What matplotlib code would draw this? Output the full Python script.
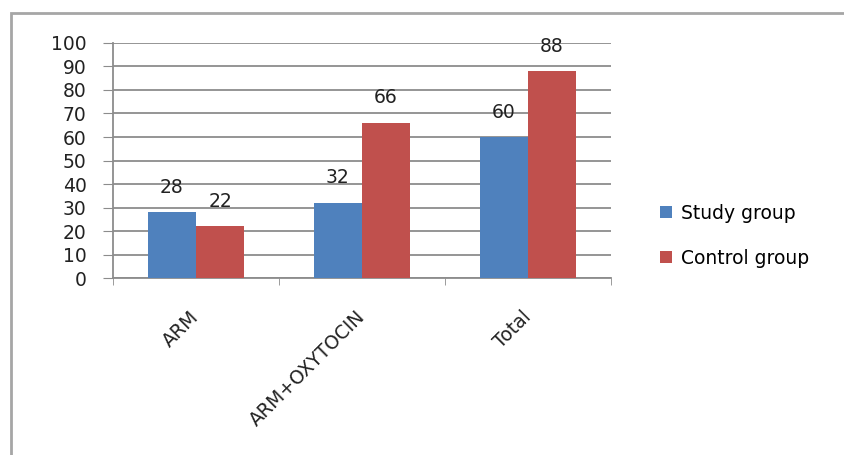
import matplotlib
matplotlib.use("Agg")
import matplotlib.pyplot as plt
from matplotlib.patches import Rectangle
import numpy as np

plt.rcParams["font.family"] = ["DejaVu Sans"]

categories = ["ARM", "ARM+OXYTOCIN", "Total"]
study_group = [28, 32, 60]
control_group = [22, 66, 88]
y_ticks = [0, 10, 20, 30, 40, 50, 60, 70, 80, 90, 100]

BLUE = "#4F81BD"
RED = "#C0504D"
GRID = "#8c8c8c"
FS = 13.5

fig = plt.figure(figsize=(8.45, 4.55), dpi=100)
ax = fig.add_axes([0.1337, 0.389, 0.5894, 0.5165])

x = np.arange(len(categories))
w = 0.29
b1 = ax.bar(x - w / 2, study_group, w, color=BLUE, label="Study group", zorder=3)
b2 = ax.bar(x + w / 2, control_group, w, color=RED, label="Control group", zorder=3)

for bars, vals in [(b1, study_group), (b2, control_group)]:
    for bar, v in zip(bars, vals):
        ax.annotate(str(v), (bar.get_x() + bar.get_width() / 2, v),
                    xytext=(0, 18), textcoords="offset points",
                    ha="center", va="center", fontsize=FS, color="#222222")

ax.set_xlim(-0.5, len(categories) - 0.5)
ax.set_ylim(0, 100)
ax.set_yticks(y_ticks)
ax.tick_params(axis="y", length=7, color=GRID, labelsize=FS, pad=12,
               labelcolor="#222222")
ax.yaxis.grid(True, color=GRID, linewidth=1.3, zorder=0)

ax.set_xticks(x)
ax.set_xticklabels(categories, rotation=45, ha="right", va="center",
                   rotation_mode="anchor", fontsize=FS, color="#222222")
ax.set_xticks(np.arange(len(categories) + 1) - 0.5, minor=True)
ax.tick_params(axis="x", which="major", length=0, pad=26)
ax.tick_params(axis="x", which="minor", length=5, color=GRID)

for s in ["top", "right"]:
    ax.spines[s].set_visible(False)
for s in ["left", "bottom"]:
    ax.spines[s].set_color(GRID)
    ax.spines[s].set_linewidth(1.3)

fig.legend(handles=[b1, b2], loc="center left", bbox_to_anchor=(0.761, 0.482),
           frameon=False, fontsize=FS, handlelength=0.65, handleheight=0.65,
           handletextpad=0.45, labelspacing=1.4)

fig.patches.append(Rectangle((11 / 845, -0.05), 1.1, 1 - 13 / 455 + 0.05,
                             transform=fig.transFigure, fill=False,
                             edgecolor="#a6a6a6", linewidth=2))

fig.savefig("out.png", dpi=100)
